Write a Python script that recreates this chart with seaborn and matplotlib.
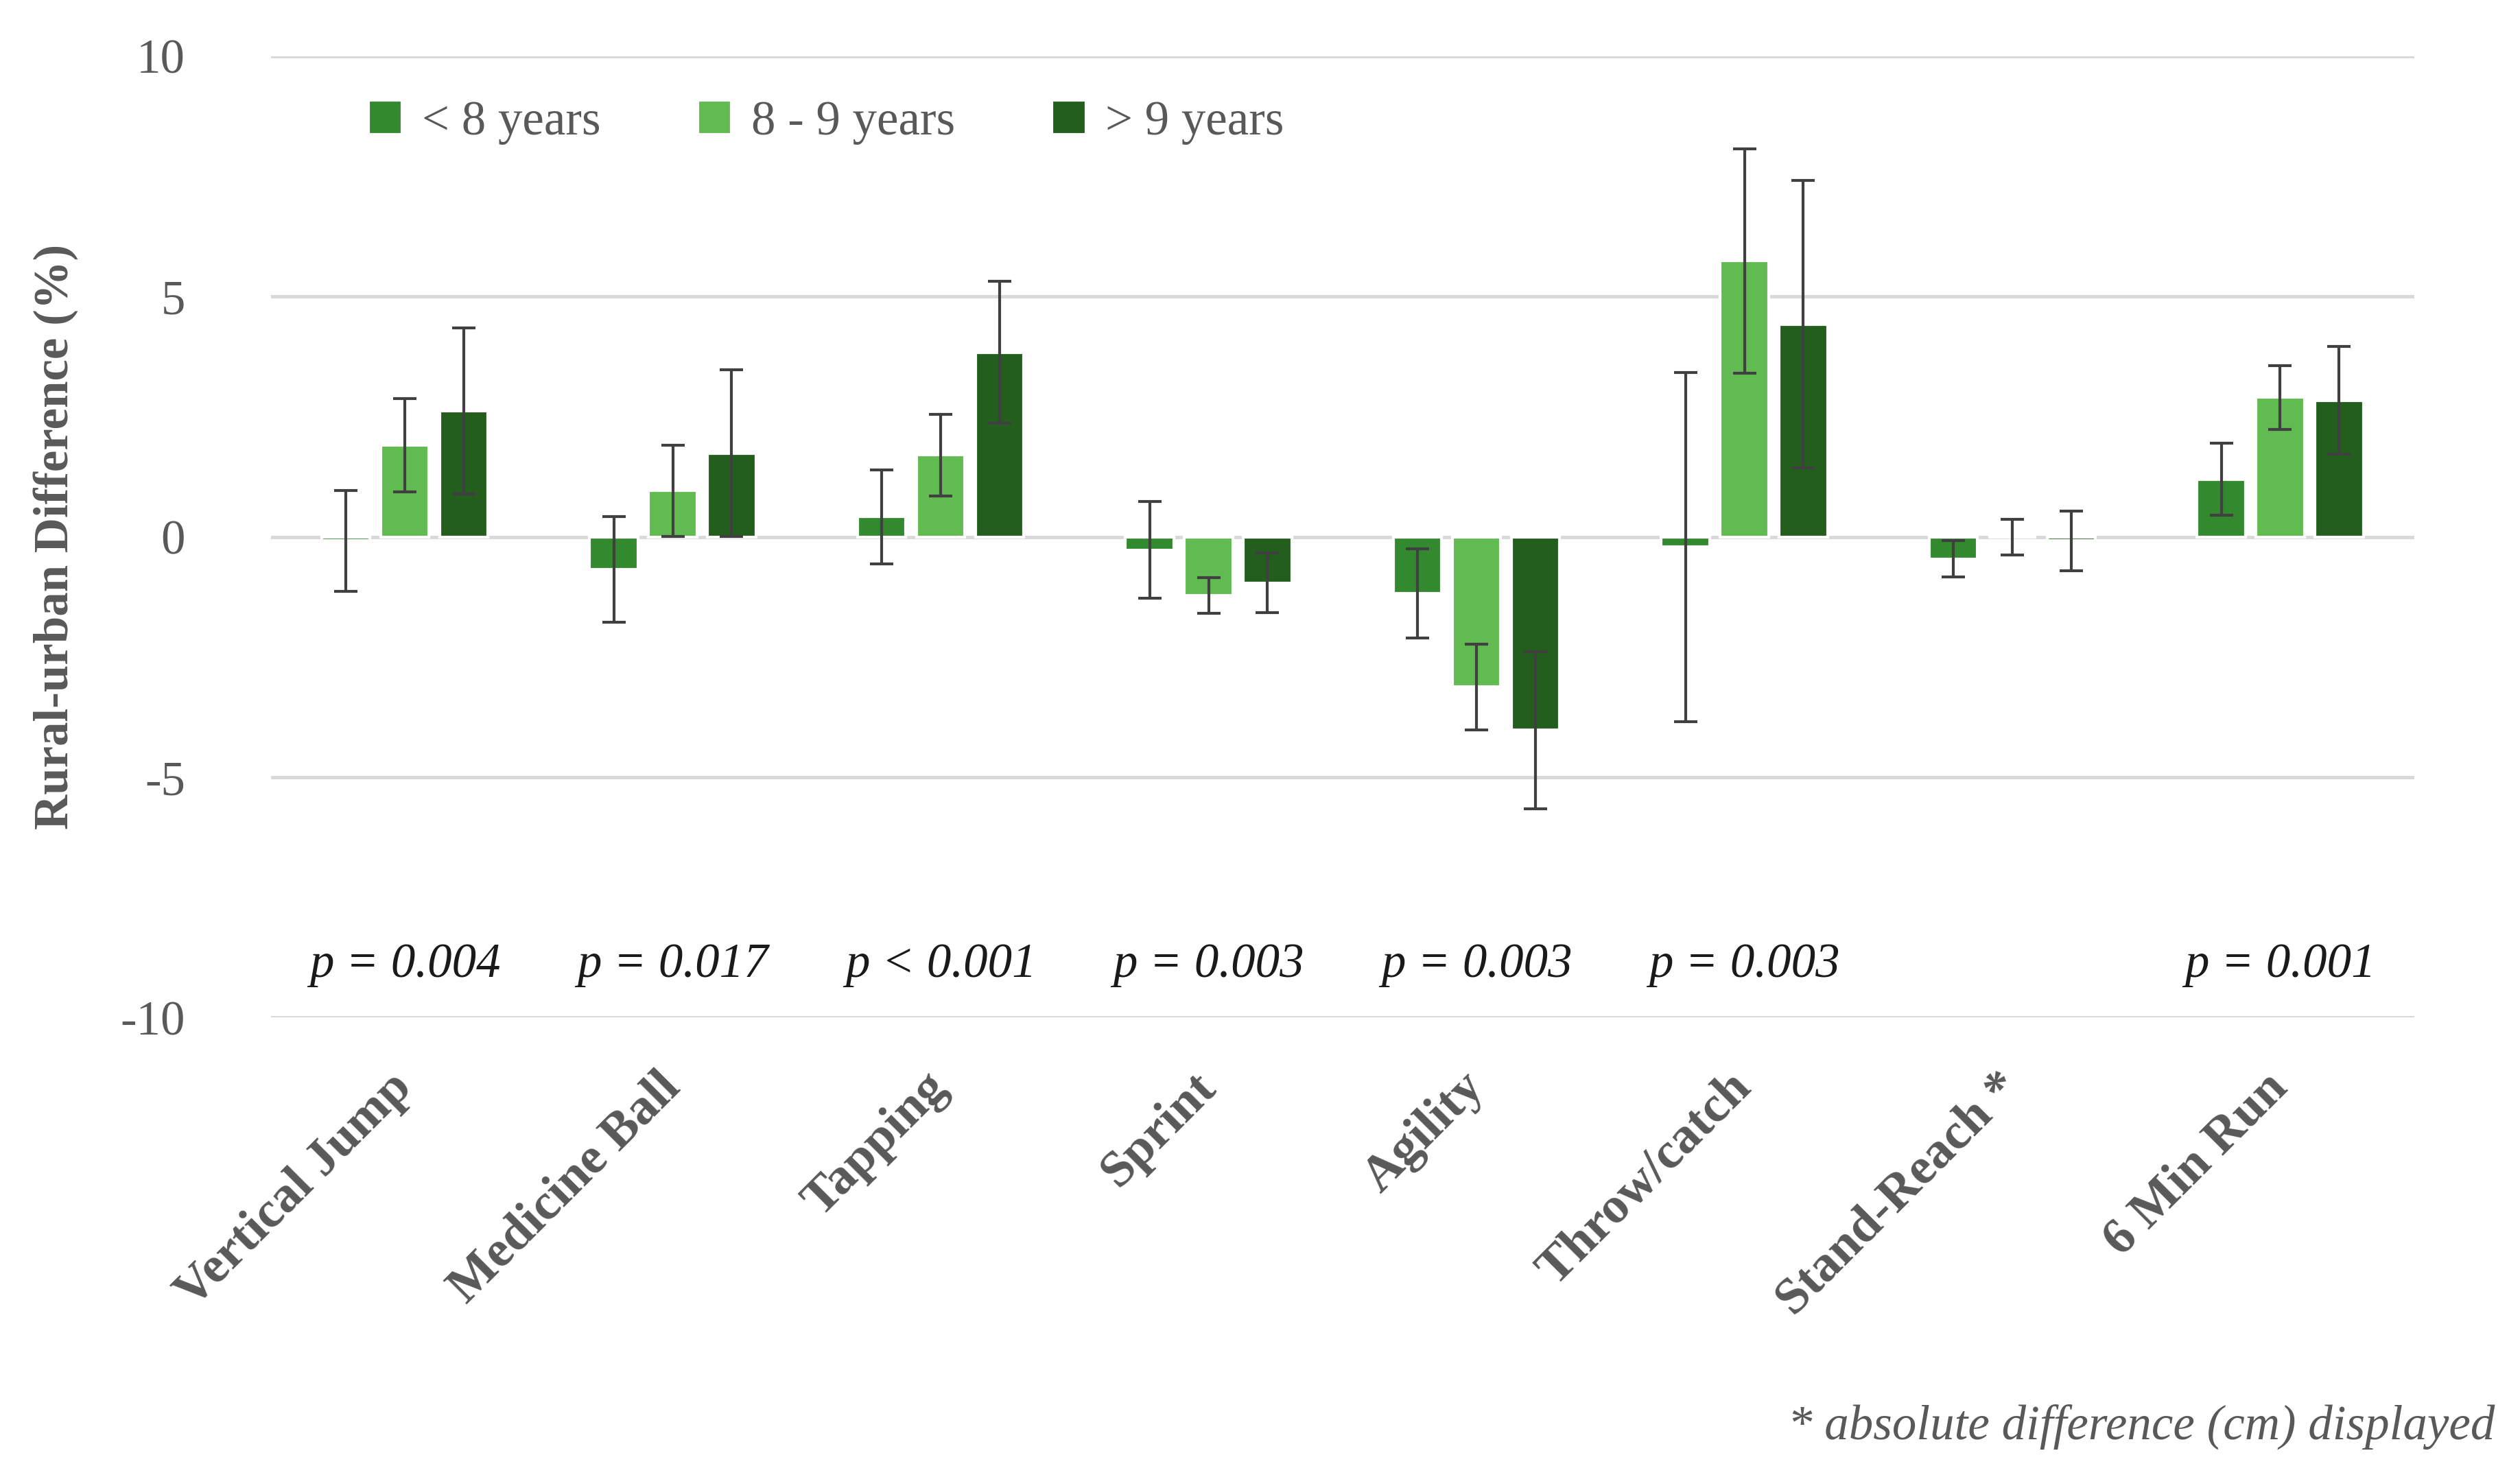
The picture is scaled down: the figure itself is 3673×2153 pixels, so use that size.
import numpy as np
import pandas as pd
import matplotlib
matplotlib.use('Agg')
import matplotlib.pyplot as plt
import seaborn as sns

# data
tests = ['Vertical Jump', 'Medicine Ball', 'Tapping', 'Sprint', 'Agility',
         'Throw/catch', 'Stand-Reach *', '6 Min Run']
groups = ['< 8 years', '8 - 9 years', '> 9 years']

diff_lt8 = [-0.08, -0.68, 0.42, -0.27, -1.18, -0.21, -0.46, 1.20]
diff_8to9 = [1.91, 0.96, 1.70, -1.22, -3.12, 5.74, 0.00, 2.90]
diff_gt9 = [2.62, 1.74, 3.84, -0.96, -4.02, 4.42, -0.08, 2.84]

err_lt8 = [1.05, 1.10, 0.98, 1.00, 0.93, 3.63, 0.38, 0.75]
err_8to9 = [0.97, 0.95, 0.85, 0.37, 0.89, 2.33, 0.37, 0.66]
err_gt9 = [1.73, 1.73, 1.47, 0.62, 1.63, 2.99, 0.62, 1.12]

p_labels = ['p = 0.004', 'p = 0.017', 'p < 0.001', 'p = 0.003', 'p = 0.003',
            'p = 0.003', '', 'p = 0.001']

colors = ['#338A2E', '#62BB50', '#235E1C']
grey = '#595959'


def main():
    sns.set_style('white')
    plt.rcParams['font.family'] = ['Liberation Serif', 'DejaVu Serif']
    plt.rcParams['axes.unicode_minus'] = False

    rows = []
    for vals, errs, g in [(diff_lt8, err_lt8, groups[0]),
                          (diff_8to9, err_8to9, groups[1]),
                          (diff_gt9, err_gt9, groups[2])]:
        for t, v, e in zip(tests, vals, errs):
            rows.append({'test': t, 'group': g, 'diff': v, 'err': e})
    df = pd.DataFrame(rows)

    fig = plt.figure(figsize=(3673 / 300, 2153 / 300), dpi=300)
    ax = fig.add_axes([0.1075, 0.311, 0.8505, 0.651])

    sns.barplot(data=df, x='test', y='diff', hue='group', order=tests,
                hue_order=groups, palette=colors, width=0.66, gap=0.18,
                errorbar=None, saturation=1, ax=ax, zorder=3)

    # error bars at the centre of each bar drawn by seaborn
    for cont, g in zip(ax.containers, groups):
        sub = df[df['group'] == g].set_index('test').loc[tests]
        xs = [p.get_x() + p.get_width() / 2 for p in cont.patches]
        ax.errorbar(xs, sub['diff'], yerr=sub['err'], fmt='none',
                    ecolor='#404040', elinewidth=1.0, capsize=4, capthick=1.0,
                    zorder=5)

    ax.set_ylim(-10, 10)
    ax.set_xlim(-0.5, len(tests) - 0.5)
    ax.set_yticks([-10, -5, 0, 5, 10])
    ax.yaxis.grid(True, color='#d9d9d9', linewidth=1.2)
    ax.set_axisbelow(True)
    sns.despine(ax=ax, left=True, bottom=True)
    ax.tick_params(axis='both', length=0)
    ax.tick_params(axis='y', labelsize=17, labelcolor=grey, pad=30)

    ax.set_xticks(range(len(tests)))
    ax.set_xticklabels(tests, rotation=45, ha='right', va='center',
                       rotation_mode='anchor', fontsize=18,
                       fontweight='bold', color=grey)
    ax.tick_params(axis='x', pad=22)
    ax.set_xlabel('')
    ax.set_ylabel('Rural-urban Difference (%)', fontsize=17,
                  fontweight='bold', color=grey)
    ax.yaxis.set_label_coords(-0.09, 0.5)

    for i, lab in enumerate(p_labels):
        if lab:
            ax.text(i, -8.9, lab, ha='center', va='center', fontsize=17,
                    style='italic', color='#1a1a1a')

    leg = ax.legend(loc='upper left', bbox_to_anchor=(0.025, 1.0), ncol=3,
                    frameon=False, fontsize=17, handlelength=0.7,
                    handleheight=0.7, handletextpad=0.4, columnspacing=2.0)
    for t in leg.get_texts():
        t.set_color(grey)

    fig.text(0.99, 0.034, '* absolute difference (cm) displayed',
             ha='right', va='center', fontsize=17, style='italic',
             color=grey)

    fig.savefig('out.png', dpi=300, facecolor='white')


if __name__ == '__main__':
    main()
